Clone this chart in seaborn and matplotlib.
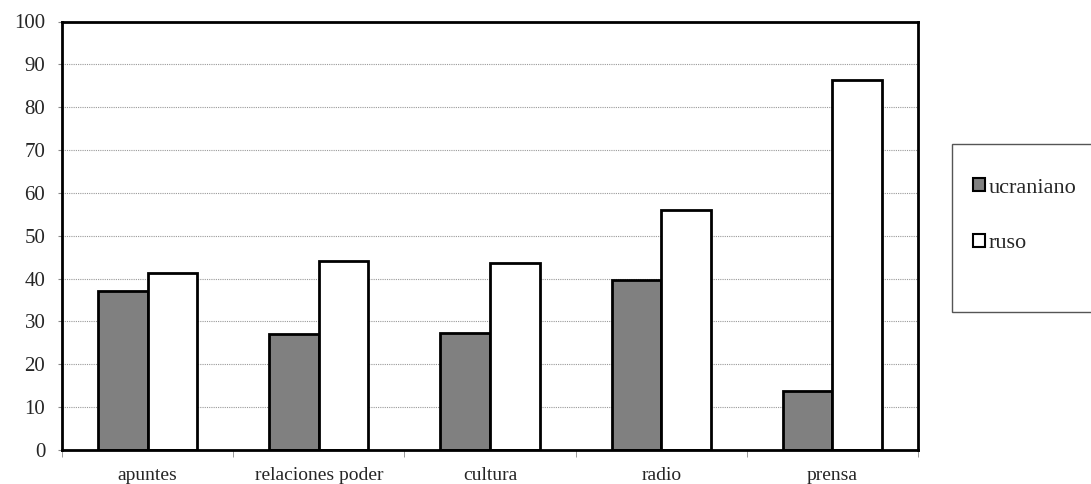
import pandas as pd
import seaborn as sns
import matplotlib.pyplot as plt
from matplotlib.patches import Rectangle

# data
categories = ['apuntes', 'relaciones poder', 'cultura', 'radio', 'prensa']
ucraniano = [37.2, 27.0, 27.3, 39.7, 13.7]
ruso = [41.2, 44.2, 43.6, 56.1, 86.3]
series = ['ucraniano', 'ruso']
colors = ['#808080', '#ffffff']
yticks = list(range(0, 101, 10))

df = pd.DataFrame({
    'cat': categories * 2,
    'lang': ['ucraniano'] * len(categories) + ['ruso'] * len(categories),
    'val': ucraniano + ruso,
})

sns.set_style('white')
plt.rcParams['font.family'] = ['Liberation Serif', 'DejaVu Serif']

fig = plt.figure(figsize=(10.91, 4.84), dpi=100)
ax = fig.add_axes([62 / 1091, 34 / 484, 856 / 1091, 428.5 / 484])

sns.barplot(data=df, x='cat', y='val', hue='lang', order=categories,
            hue_order=series, palette=colors, width=0.58, gap=0,
            edgecolor='black', linewidth=2, saturation=1, ax=ax, legend=False)

ax.set_xlim(-0.5, len(categories) - 0.5)
ax.set_ylim(0, 100)
ax.set_yticks(yticks)
ax.set_yticklabels([str(t) for t in yticks], fontsize=15)
ax.set_xlabel('')
ax.set_ylabel('')
ax.set_xticks(range(len(categories)))
ax.set_xticklabels(categories, fontsize=14)
ax.tick_params(axis='x', length=0, pad=12)
ax.tick_params(axis='y', length=3, color='#888888', pad=9, direction='out', left=True)
ax.set_xticks([i + 0.5 for i in range(-1, len(categories))], minor=True)
ax.tick_params(axis='x', which='minor', length=5, color='#888888', direction='out', bottom=True)

ax.yaxis.grid(True, color='#999999', linestyle=(0, (1, 1)), linewidth=0.8)
ax.set_axisbelow(True)
for s in ax.spines.values():
    s.set_visible(True)
    s.set_color('black')
    s.set_linewidth(2)

# legend frame extends past the right edge like in the reference
fig.patches.append(Rectangle((952 / 1091, 1 - 312 / 484), 0.2, 168 / 484,
                             transform=fig.transFigure, facecolor='white',
                             edgecolor='#555555', linewidth=1))
handles = [Rectangle((0, 0), 1, 1, facecolor=c, edgecolor='black', linewidth=1.5) for c in colors]
fig.legend(handles, series, loc='upper left', bbox_to_anchor=(962 / 1091, 1 - 167 / 484),
           frameon=False, fontsize=16, handlelength=0.55, handleheight=0.55,
           handletextpad=0.15, labelspacing=1.62, borderpad=0)

fig.savefig('out.png', dpi=100)
